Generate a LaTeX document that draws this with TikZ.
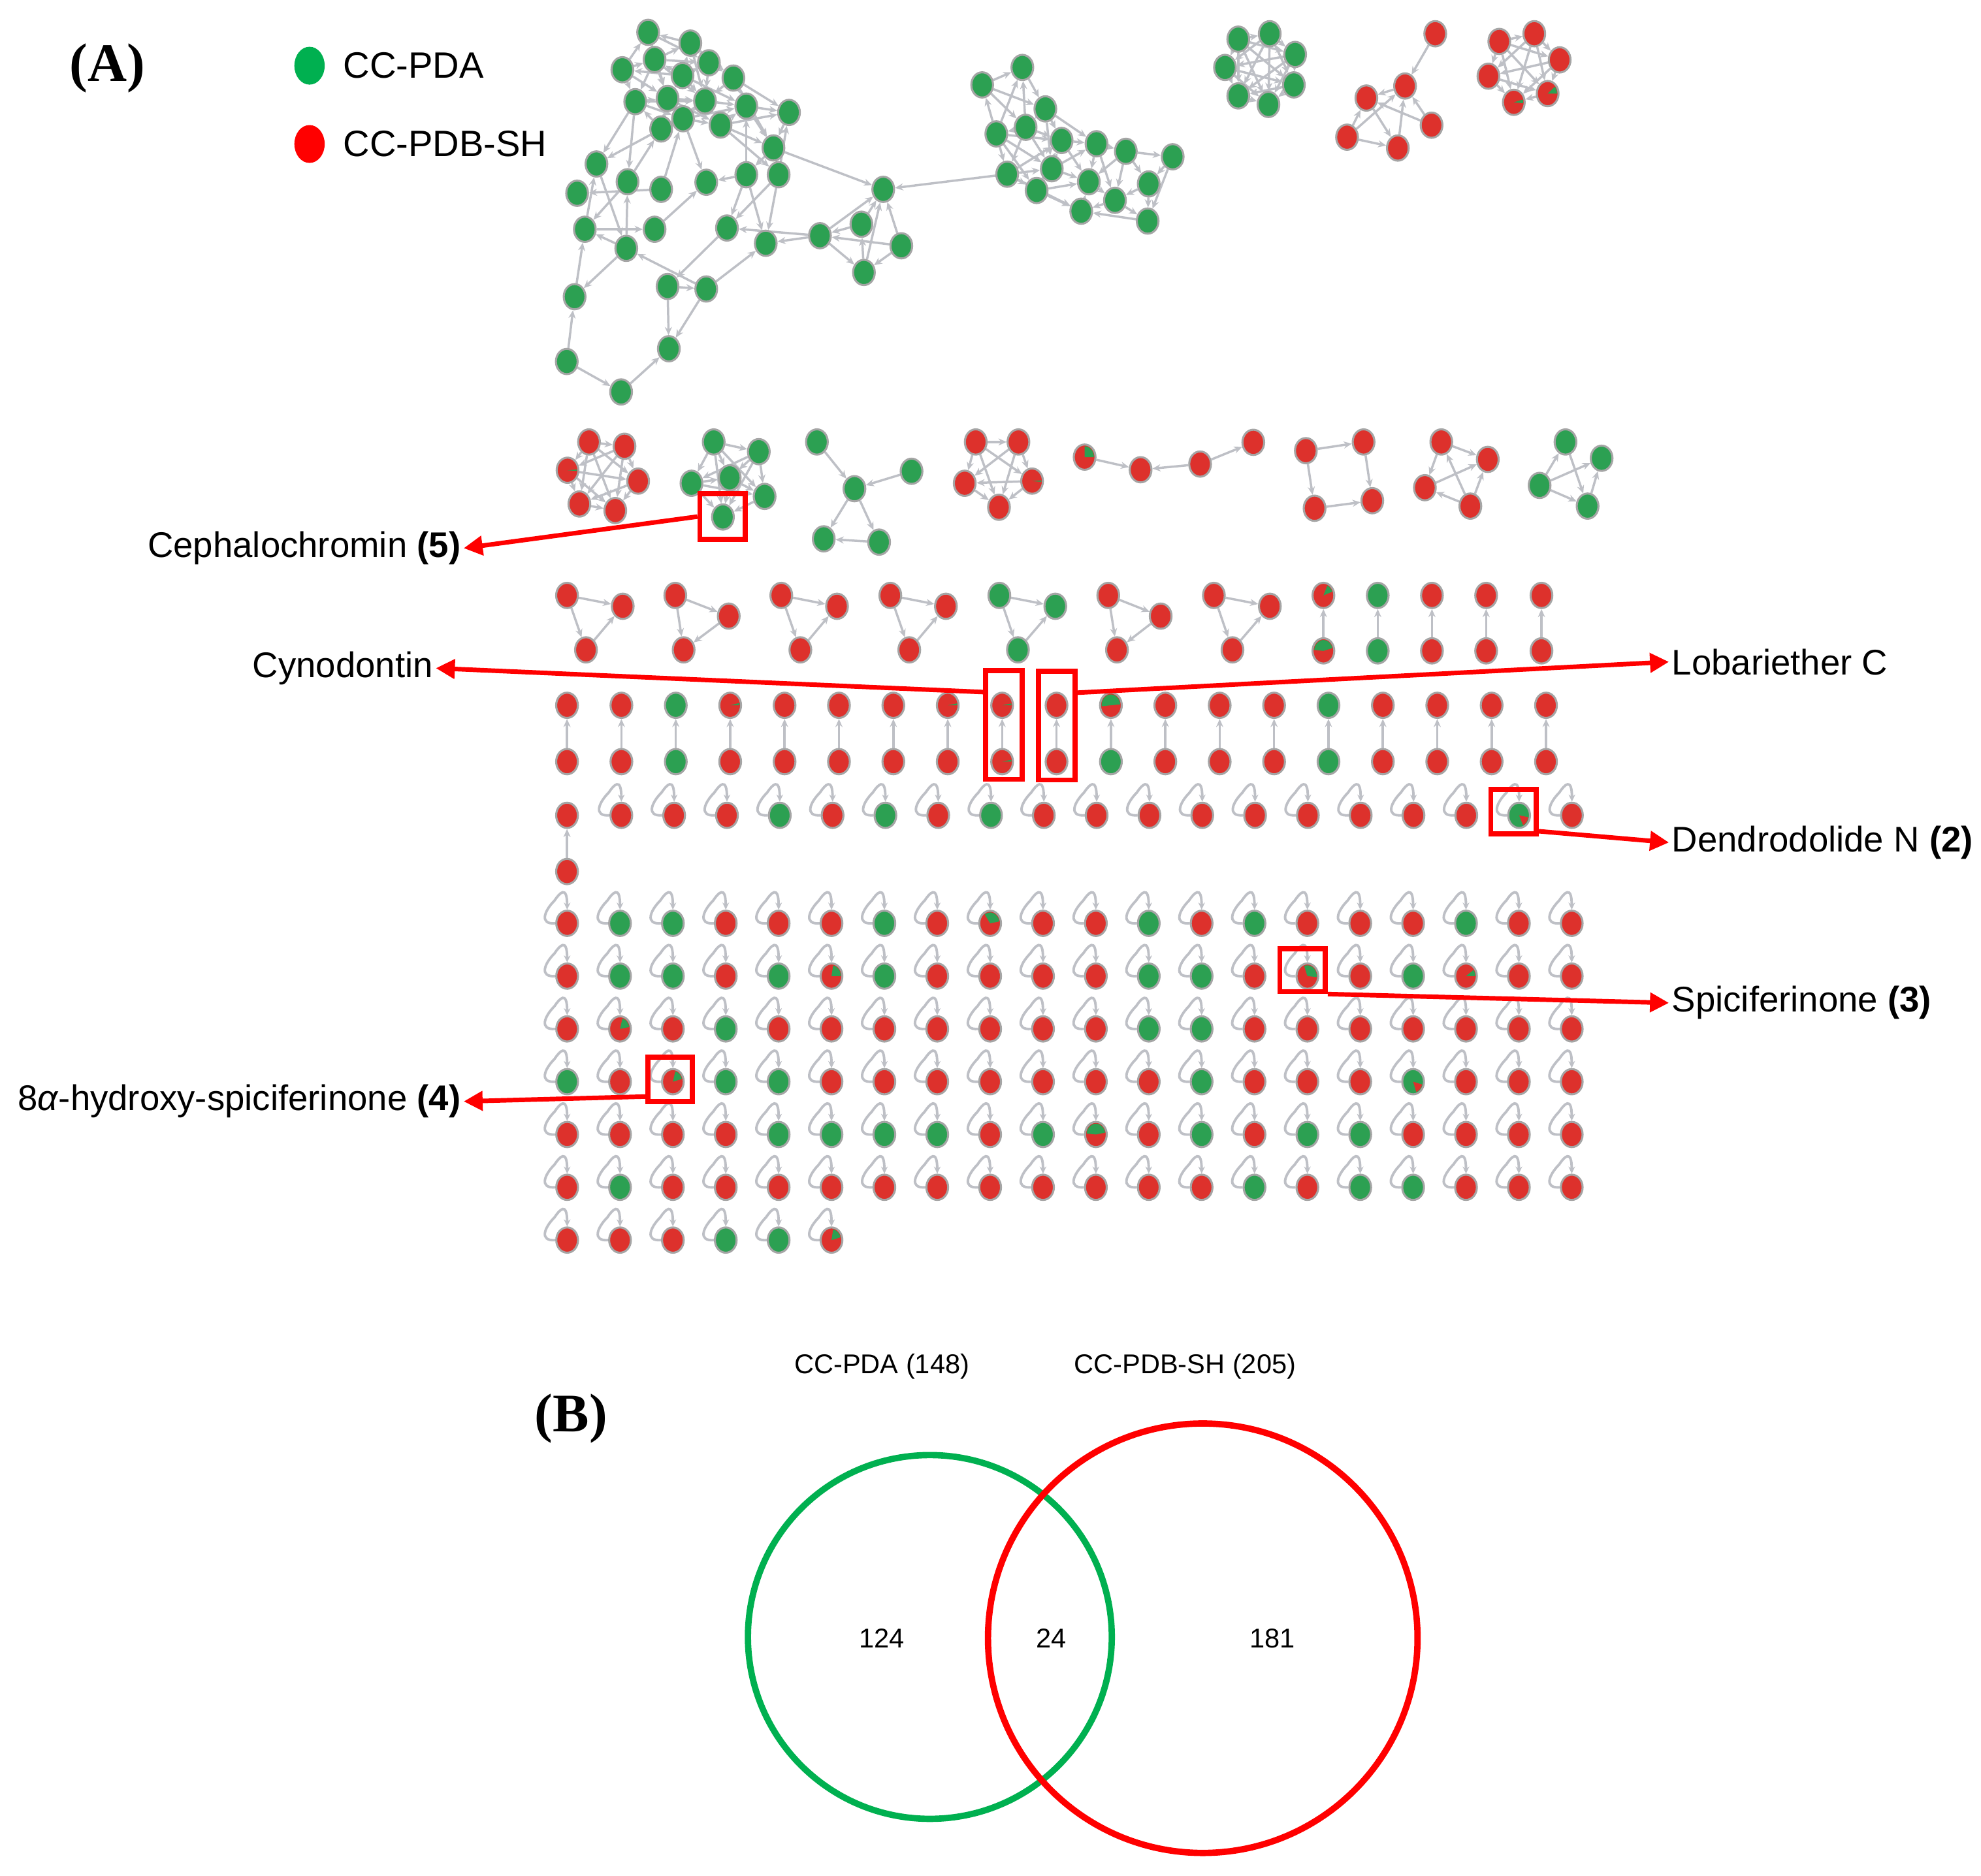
\documentclass[tikz,border=0pt]{standalone}
\usepackage{fontspec}
\setmainfont{Liberation Sans}
\newfontfamily\serifbf{Liberation Serif}
\usetikzlibrary{arrows.meta,calc,positioning,shapes.geometric}
\definecolor{cR}{RGB}{221,49,44}
\definecolor{cG}{RGB}{44,160,82}
\definecolor{linkgray}{RGB}{190,192,198}
\definecolor{ringgray}{RGB}{165,165,165}
\definecolor{keygreen}{RGB}{0,176,80}
\definecolor{keyred}{RGB}{255,0,0}
\pgfdeclarelayer{links}
\pgfsetlayers{links,main}
% self loop sitting on the upper left of a node
\newcommand{\sloop}[1]{\draw[loopln] (#1.west) .. controls +(-13,1) and +(-8,8) .. ([shift={(-10,-18)}]#1.center) .. controls +(4,-6) and +(0,-20) .. (#1.north);}
% coloured sector inside a node (angles as seen)
\newcommand{\wedgefill}[4]{\fill[#2] (#1.center) -- ++(#3:3.7pt and 4.3pt) arc[start angle=#3, end angle=#4, x radius=3.7pt, y radius=4.3pt] -- cycle;}

\begin{document}
\begin{tikzpicture}[x=0.5pt,y=-0.5pt,
    nd/.style={ellipse,draw=ringgray,line width=0.8pt,fill=#1,minimum width=8.6pt,minimum height=10pt,inner sep=0pt},
    lnk/.style={draw=linkgray,line width=0.9pt,-{Stealth[length=3.2pt,width=2.8pt]}},
    loopln/.style={draw=linkgray,line width=1pt,-{Stealth[length=2.8pt,width=2.6pt]}},
    hlbox/.style={draw=keyred,line width=2pt,inner sep=0pt},
    redarrow/.style={draw=keyred,line width=1.8pt,-{Triangle[length=7.5pt,width=7.5pt]}},
    lab/.style={font=\fontsize{14.1}{16}\selectfont,inner sep=1pt},
    keytxt/.style={font=\fontsize{14.5}{17}\selectfont,inner sep=0pt},
    venntxt/.style={font=\fontsize{10.75}{13}\selectfont,inner sep=0pt},
    panel/.style={font=\serifbf\bfseries\fontsize{21.5}{24}\selectfont,inner sep=0pt}]
  \useasboundingbox (0,0) rectangle (1568,1485);

  % panel A and key
  \node[panel] (pA) at (85,54) {(A)};
  \node[ellipse,fill=keygreen,minimum width=12pt,minimum height=15pt,inner sep=0pt] (kG) at (245,52) {};
  \node[ellipse,fill=keyred,minimum width=12pt,minimum height=15pt,inner sep=0pt] (kR) at (245,114) {};
  \node[keytxt,right=7pt of kG] (tG) {CC-PDA};
  \node[keytxt,right=7pt of kR] (tR) {CC-PDB-SH};

  % big green network
  \foreach \n/\x/\y in {1/513.0/25.6,2/546.4/34.1,3/518.1/47.1,4/492.6/55.2,5/561.1/49.7,
      6/540.2/59.8,7/580.5/61.8,8/502.8/80.5,9/528.4/77.9,10/558.0/79.9,11/590.7/84.0,
      12/624.5/89.0,13/540.6/94.0,14/570.3/99.0,15/523.3/102.1,16/612.2/117.1,
      17/472.1/129.8,18/496.7/143.9,19/523.3/149.9,20/559.0/144.3,21/590.7/138.3,
      22/616.3/138.3,23/456.8/153.0,24/699.1/149.9,25/462.9/181.5,26/518.1/181.5,
      27/575.4/180.5,28/606.1/192.6,29/649.0/186.6,30/681.8/177.5,31/713.4/194.6,
      32/495.7/196.6,33/683.8/215.7,34/454.8/234.9,35/528.4/226.8,36/559.0/228.8,
      37/529.4/276.1,38/448.6/286.2,39/491.6/310.3} {
      \node[nd=cG] (L\n) at (\x,\y) {};
    }
  \foreach \n/\x/\y in {1/809.2/53.4,2/777.4/67.2,3/827.4/86.2,4/811.8/100.8,5/788.6/106.0,
      6/840.3/111.2,7/867.9/113.8,8/891.1/119.8,9/928.2/124.1,10/797.2/137.9,
      11/832.5/133.6,12/861.8/143.9,13/820.5/150.8,14/909.2/145.6,15/882.5/158.6,
      16/855.8/167.2,17/908.4/175.0} {
      \node[nd=cG] (M\n) at (\x,\y) {};
    }

  % top right clusters
  \foreach \n/\x/\y in {1/980.1/31.0,2/1005.0/26.7,3/1025.1/43.1,4/969.6/53.4,
      5/1024.1/67.2,6/980.1/75.9,7/1004.0/82.7} {
      \node[nd=cG] (H\n) at (\x,\y) {};
    }
  \foreach \n/\x/\y in {1/1136.0/26.7,2/1112.1/68.1,3/1081.5/77.6,4/1133.1/99.1,
      5/1066.2/108.6,6/1106.4/117.2} {
      \node[nd=cR] (R\n) at (\x,\y) {};
    }
  \foreach \n/\x/\y in {1/1186.7/32.8,2/1214.4/26.7,3/1234.5/47.4,4/1178.1/60.3,
      5/1225.0/74.1,6/1198.2/81.0} {
      \node[nd=cR] (K\n) at (\x,\y) {};
    }

  % second row of small clusters
  \foreach \n/\x/\y in {1/466.2/349.9,2/494.3/353.3,3/449.2/372.3,4/505.1/380.9,
      5/458.6/399.0,6/487.0/404.2} {
      \node[nd=cR] (A\n) at (\x,\y) {};
    }
  \foreach \n/\x/\y in {1/564.9/349.9,2/600.6/357.6,3/547.3/382.6,4/577.6/378.3,
      5/605.2/393.0,6/572.2/409.3} {
      \node[nd=cG] (B\n) at (\x,\y) {};
    }
  \foreach \n/\x/\y in {1/646.6/349.9,2/721.5/373.1,3/676.3/386.9,4/652.0/426.6,5/695.8/429.2} {
      \node[nd=cG] (C\n) at (\x,\y) {};
    }
  \foreach \n/\x/\y in {1/772.3/349.9,2/806.1/349.9,3/763.6/382.6,4/816.9/380.9,5/790.7/401.6} {
      \node[nd=cR] (D\n) at (\x,\y) {};
    }
  \foreach \n/\x/\y in {1/858.5/361.9,2/902.8/371.9,3/949.9/367.4,4/992.0/350.2} {
      \node[nd=cR] (E\n) at (\x,\y) {};
    }
  \foreach \n/\x/\y in {1/1033.6/356.8,2/1079.3/349.9,3/1040.5/402.4,4/1086.2/396.4} {
      \node[nd=cR] (F\n) at (\x,\y) {};
    }
  \foreach \n/\x/\y in {1/1140.8/349.9,2/1177.6/363.7,3/1127.8/386.1,4/1163.8/400.7} {
      \node[nd=cR] (W\n) at (\x,\y) {};
    }
  \foreach \n/\x/\y in {1/1239.1/349.9,2/1267.7/362.8,3/1218.6/384.3,4/1256.6/400.7} {
      \node[nd=cG] (U\n) at (\x,\y) {};
    }

  % triangles and pairs
  \foreach \t/\xa/\xb/\xc/\yb/\c in {1/448.8/492.9/463.8/480.0/R,2/534.5/576.8/541.1/487.8/R,
      3/618.4/662.5/633.5/480.0/R,4/704.7/748.7/719.7/480.0/R,5/791.0/835.3/805.7/480.0/G,
      6/877.2/918.7/884.1/487.8/R,7/960.8/1005.1/975.5/480.0/R} {
      \node[nd=c\c] (t\t-a) at (\xa,471.4) {};
      \node[nd=c\c] (t\t-b) at (\xb,\yb) {};
      \node[nd=c\c] (t\t-c) at (\xc,514.5) {};
    }
  \foreach \k/\x/\c in {1/1047.5/R,2/1090.5/G,3/1133.4/R,4/1176.3/R,5/1220.1/R} {
      \node[nd=c\c] (pu\k) at (\x,471.4) {};
      \node[nd=c\c] (pl\k) at (\x,515.3) {};
    }
  \foreach \cu/\cl [count=\k from 0] in {R/R,R/R,G/G,R/R,R/R,R/R,R/R,R/R,R/R,R/R,
      R/G,R/R,R/R,R/R,G/G,R/R,R/R,R/R,R/R} {
      \node[nd=c\cu] (qu\k) at ({448.8+\k*43.05},558.4) {};
      \node[nd=c\cl] (ql\k) at ({448.8+\k*43.05},603.0) {};
    }
  \node[nd=cR] (r5u) at (448.8,645.5) {};
  \node[nd=cR] (r5l) at (448.8,690.0) {};
  \foreach \c [count=\k from 0] in {R,R,R,G,R,G,R,G,R,R,R,R,R,R,R,R,R,G,R} {
      \node[nd=c\c] (s\k) at ({491.8+\k*41.8},645.5) {};
    }

  % singletons with self loops
  \foreach \r/\cols in {0/{R,G,G,R,R,R,G,R,R,R,R,G,R,G,R,R,R,G,R,R},
      1/{R,G,G,R,G,R,G,R,R,R,R,G,G,R,R,R,G,R,R,R},
      2/{R,R,R,G,R,R,R,R,R,R,R,G,G,R,R,R,R,R,R,R},
      3/{G,R,R,G,G,R,R,R,R,R,R,R,G,R,R,R,G,R,R,R},
      4/{R,R,R,R,G,G,G,G,R,G,R,R,G,R,G,G,R,R,R,R},
      5/{R,G,R,R,R,R,R,R,R,R,R,R,R,G,R,G,G,R,R,R},
      6/{R,R,R,G,G,R}} {
      \foreach \c [count=\k from 0] in \cols {
          \node[nd=c\c] (g\r-\k) at ({448.9+\k*41.85},{731+\r*41.8}) {};
        }
    }

  \begin{pgfonlayer}{links}
    \foreach \a/\b in {2/1,4/1,1/9,3/2,3/5,5/2,6/2,6/3,6/5,4/3,4/9,3/9,3/10,3/8,6/9,6/10,
        5/10,5/7,7/11,7/12,7/10,6/11,8/9,9/10,10/11,11/12,8/13,9/13,10/13,10/14,13/14,
        14/11,15/9,15/8,14/12,11/16,14/16,12/16,10/15,4/8,2/7,8/10,9/14,13/11,6/4,1/5,2/10,
        8/17,8/18,15/17,18/15,19/13,13/20,7/16,16/24,21/20,21/11,22/12,14/22,21/27,21/28,
        22/28,22/27,19/23,25/17,18/25,32/18,17/32,25/26,32/25,34/25,32/34,36/32,27/35,
        35/36,36/28,35/37,36/37,38/34,38/39,39/37,29/28,29/27,29/24,30/29,31/29,31/24,
        33/24,33/30,31/33,29/33,30/24,26/20,16/22,16/21} {
        \draw[lnk] (L\a) -- (L\b);
      }
    \foreach \a/\b in {2/1,1/3,5/1,4/1,2/3,2/4,5/2,3/4,3/6,3/7,3/11,4/5,4/6,4/10,4/11,
        5/10,5/11,5/6,10/11,10/13,10/6,13/11,13/16,13/12,13/6,11/6,11/12,11/7,6/7,6/12,
        7/8,7/12,7/15,8/9,8/14,8/15,8/12,9/14,9/17,14/17,14/15,15/16,17/16,16/12,12/15,
        15/17,10/16,5/13} {
        \draw[lnk] (M\a) -- (M\b);
      }
    \draw[lnk] (M10) -- (L24);
    \foreach \a in {1,...,6} {
        \foreach \b in {\a,...,7} {
            \ifnum\a<\b \draw[lnk] (H\a) -- (H\b);\fi
          }
      }
    \foreach \a in {1,...,5} {
        \foreach \b in {\a,...,6} {
            \ifnum\a<\b
              \draw[lnk] (K\a) -- (K\b);
              \draw[lnk] (A\a) -- (A\b);
              \draw[lnk] (B\a) -- (B\b);
            \fi
          }
      }
    \foreach \a/\b in {1/2,2/3,5/3,5/2,5/6,4/2,6/2,3/6,4/3} {
        \draw[lnk] (R\a) -- (R\b);
      }
    \foreach \a/\b in {1/3,2/3,3/4,3/5,5/4} {
        \draw[lnk] (C\a) -- (C\b);
      }
    \foreach \a/\b in {1/2,1/3,1/5,2/4,2/3,4/3,4/5,3/5,2/5,1/4} {
        \draw[lnk] (D\a) -- (D\b);
      }
    \foreach \a/\b in {1/2,3/2,3/4} {
        \draw[lnk] (E\a) -- (E\b);
      }
    \foreach \a/\b in {1/2,1/3,2/4,3/4} {
        \draw[lnk] (F\a) -- (F\b);
      }
    \foreach \a/\b in {1/2,1/3,3/2,4/1,4/3,4/2} {
        \draw[lnk] (W\a) -- (W\b);
      }
    \foreach \a/\b in {3/1,3/2,3/4,1/4,4/2} {
        \draw[lnk] (U\a) -- (U\b);
      }
    \foreach \t in {1,3,4,5,7} {
        \draw[lnk] (t\t-a) -- (t\t-b);
        \draw[lnk] (t\t-a) -- (t\t-c);
        \draw[lnk] (t\t-c) -- (t\t-b);
      }
    \foreach \t in {2,6} {
        \draw[lnk] (t\t-a) -- (t\t-b);
        \draw[lnk] (t\t-a) -- (t\t-c);
        \draw[lnk] (t\t-b) -- (t\t-c);
      }
    \foreach \k in {1,...,5} {
        \draw[lnk] (pl\k) -- (pu\k);
      }
    \foreach \k in {0,...,18} {
        \draw[lnk] (ql\k) -- (qu\k);
      }
    \draw[lnk] (r5l) -- (r5u);
    \foreach \k in {0,...,18} {
        \sloop{s\k}
      }
    \foreach \r in {0,...,5} {
        \foreach \k in {0,...,19} {
            \sloop{g\r-\k}
          }
      }
    \foreach \k in {0,...,5} {
        \sloop{g6-\k}
      }
  \end{pgfonlayer}

  % mixed nodes
  \wedgefill{K5}{cG}{0}{40}
  \wedgefill{K6}{cG}{-5}{15}
  \wedgefill{A3}{cG}{-4}{4}
  \wedgefill{D4}{cG}{-4}{4}
  \wedgefill{E1}{cG}{0}{90}
  \wedgefill{pu1}{cG}{20}{65}
  \wedgefill{pl1}{cG}{15}{175}
  \wedgefill{qu3}{cG}{0}{12}
  \wedgefill{qu7}{cG}{0}{10}
  \wedgefill{qu8}{cG}{0}{10}
  \wedgefill{ql8}{cG}{0}{10}
  \wedgefill{qu10}{cG}{5}{185}
  \wedgefill{s17}{cR}{-65}{-10}
  \wedgefill{g0-8}{cG}{10}{125}
  \wedgefill{g1-5}{cG}{0}{80}
  \wedgefill{g1-14}{cG}{-5}{110}
  \wedgefill{g1-17}{cG}{0}{35}
  \wedgefill{g2-1}{cG}{10}{75}
  \wedgefill{g3-2}{cG}{15}{75}
  \wedgefill{g3-16}{cR}{-70}{-15}
  \wedgefill{g4-10}{cG}{10}{175}
  \wedgefill{g6-5}{cG}{15}{80}

  % highlighted compounds
  \node[hlbox,minimum width=18pt,minimum height=18pt] (bx5) at (572,409) {};
  \node[hlbox,minimum width=14.5pt,minimum height=43pt] (bxC) at (794.5,574) {};
  \node[hlbox,minimum width=14.5pt,minimum height=43pt] (bxL) at (836.5,574.5) {};
  \node[hlbox,minimum width=18pt,minimum height=17.5pt] (bx2) at (1198,642.5) {};
  \node[hlbox,minimum width=18pt,minimum height=17pt] (bx3) at (1031,768) {};
  \node[hlbox,minimum width=17.5pt,minimum height=17.5pt] (bx4) at (530.5,854.5) {};

  \node[lab,anchor=east] (l5) at (367,434) {Cephalochromin \textbf{(5)}};
  \node[lab,anchor=east] (lC) at (345,529) {Cynodontin};
  \node[lab,anchor=west] (lL) at (1321,524) {Lobariether C};
  \node[lab,anchor=west] (l2) at (1321,667) {Dendrodolide N \textbf{(2)}};
  \node[lab,anchor=west] (l3) at (1321,794) {Spiciferinone \textbf{(3)}};
  \node[lab,anchor=east] (l4) at (367,872) {8\textit{α}-hydroxy-spiciferinone \textbf{(4)}};

  \draw[redarrow] (bx5.west) -- (l5.east);
  \draw[redarrow] ($(bxC.north west)!0.21!(bxC.south west)$) -- (lC.east);
  \draw[redarrow] ($(bxL.north east)!0.21!(bxL.south east)$) -- (lL.west);
  \draw[redarrow] ($(bx2.north east)!0.9!(bx2.south east)$) -- (l2.west);
  \draw[redarrow] (bx3.south east) -- (l3.west);
  \draw[redarrow] ($(bx4.north west)!0.85!(bx4.south west)$) -- (l4.east);

  % panel B
  \node[panel] (pB) at (452,1123) {(B)};
  \node[circle,draw=keygreen,line width=2.5pt,minimum size=144pt,inner sep=0pt] (vA) at (736,1296) {};
  \node[circle,draw=keyred,line width=2.5pt,minimum size=170pt,inner sep=0pt] (vB) at (952,1297) {};
  \node[venntxt] (hA) at (698,1082) {CC-PDA (148)};
  \node[venntxt] (hB) at (938,1082) {CC-PDB-SH (205)};
  \node[venntxt] (nA) at (698,1297) {124};
  \node[venntxt] (nAB) at (832,1297) {24};
  \node[venntxt] (nB) at (1007,1297) {181};
\end{tikzpicture}
\end{document}
